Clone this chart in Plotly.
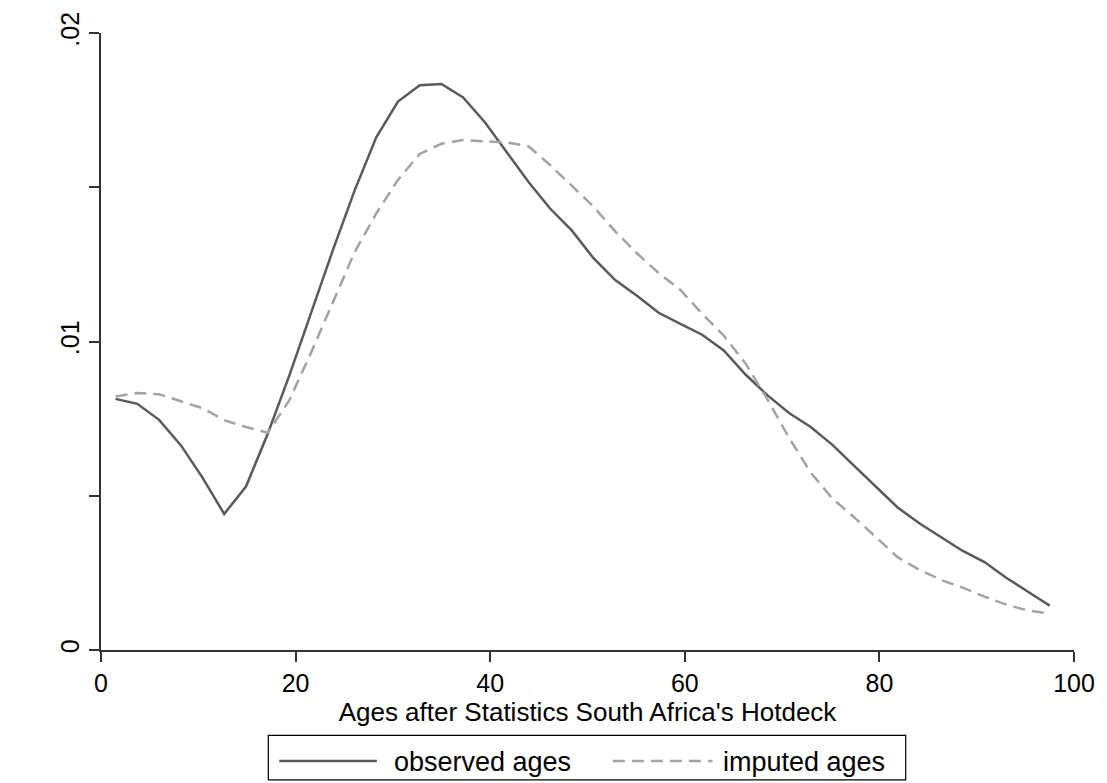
import plotly.graph_objects as go

# Kernel density estimates of age, evaluated on a common grid
age_grid = [1.50, 3.73, 5.97, 8.20, 10.43, 12.66, 14.90, 17.13, 19.36, 21.59,
            23.83, 26.06, 28.29, 30.52, 32.76, 34.99, 37.22, 39.45, 41.69, 43.92,
            46.15, 48.38, 50.62, 52.85, 55.08, 57.31, 59.55, 61.78, 64.01, 66.24,
            68.48, 70.71, 72.94, 75.17, 77.41, 79.64, 81.87, 84.10, 86.34, 88.57,
            90.80, 93.03, 95.27, 97.50]

observed_density = [0.00814, 0.00798, 0.00746, 0.00664, 0.00559, 0.00441, 0.00530, 0.00700,
                    0.00890, 0.01093, 0.01296, 0.01489, 0.01662, 0.01778, 0.01831, 0.01835,
                    0.01791, 0.01711, 0.01614, 0.01518, 0.01431, 0.01360, 0.01270, 0.01199,
                    0.01148, 0.01093, 0.01057, 0.01022, 0.00971, 0.00893, 0.00826, 0.00768,
                    0.00723, 0.00665, 0.00597, 0.00530, 0.00462, 0.00411, 0.00366, 0.00321,
                    0.00285, 0.00234, 0.00189, 0.00144]

imputed_density = [0.00822, 0.00833, 0.00829, 0.00807, 0.00784, 0.00745, 0.00723, 0.00704,
                   0.00810, 0.00964, 0.01128, 0.01289, 0.01415, 0.01524, 0.01608, 0.01641,
                   0.01653, 0.01649, 0.01645, 0.01633, 0.01572, 0.01505, 0.01437, 0.01357,
                   0.01286, 0.01222, 0.01167, 0.01090, 0.01019, 0.00929, 0.00813, 0.00688,
                   0.00575, 0.00491, 0.00430, 0.00366, 0.00301, 0.00260, 0.00227, 0.00202,
                   0.00173, 0.00147, 0.00128, 0.00118]

x_ticks = [0, 20, 40, 60, 80, 100]
y_ticks = [0, 0.005, 0.01, 0.015, 0.02]
y_tick_labels = ["0", "", ".01", "", ".02"]

series_names = ["observed ages", "imputed ages"]
solid_color = "#5a5a5a"
dash_color = "#a3a3a3"
dash_pattern = "12px,7px"
font_family = "Liberation Sans, Arial, sans-serif"

W, H = 1107, 783
ML, MR, MT, MB = 101, 29, 28, 133
PW, PH = W - ML - MR, H - MT - MB


def px_x(x):
    return (x - ML) / PW


def px_y(y):
    return (H - MB - y) / PH


fig = go.Figure()
fig.add_trace(go.Scatter(x=age_grid, y=observed_density, mode="lines",
                         name=series_names[0],
                         line=dict(color=solid_color, width=2.5)))
fig.add_trace(go.Scatter(x=age_grid, y=imputed_density, mode="lines",
                         name=series_names[1],
                         line=dict(color=dash_color, width=2.5, dash=dash_pattern)))

axis_color = "#333333"
fig.update_xaxes(range=[0, 100], tickvals=x_ticks, ticks="outside", ticklen=10,
                 tickwidth=1.5, tickcolor=axis_color, showline=True, linewidth=1.5,
                 linecolor=axis_color, showgrid=False, zeroline=False,
                 tickfont=dict(size=25, color="black", family=font_family),
                 title=dict(text="Ages after Statistics South Africa's Hotdeck",
                            font=dict(size=26, color="black", family=font_family),
                            standoff=1))
fig.update_yaxes(range=[0, 0.02], tickvals=y_ticks, ticktext=y_tick_labels,
                 ticks="outside", ticklen=10, tickwidth=1.5, tickcolor=axis_color,
                 showline=True, linewidth=1.5, linecolor=axis_color, showgrid=False,
                 zeroline=False, tickangle=-90,
                 tickfont=dict(size=25, color="black", family=font_family))

# Legend box below the x-axis title
box_l, box_r, box_t, box_b = 269, 909, 736, 781
shapes = [dict(type="rect", xref="paper", yref="paper",
               x0=px_x(box_l), x1=px_x(box_r), y0=px_y(box_b), y1=px_y(box_t),
               line=dict(color="black", width=1.2), fillcolor="white", layer="above")]
sample_y = 762
shapes.append(dict(type="line", xref="paper", yref="paper",
                   x0=px_x(280), x1=px_x(378), y0=px_y(sample_y), y1=px_y(sample_y),
                   line=dict(color=solid_color, width=2.5)))
shapes.append(dict(type="line", xref="paper", yref="paper",
                   x0=px_x(615), x1=px_x(715), y0=px_y(sample_y), y1=px_y(sample_y),
                   line=dict(color=dash_color, width=2.5, dash=dash_pattern)))
annotations = [
    dict(text=series_names[0], xref="paper", yref="paper", x=px_x(393), y=px_y(763),
         xanchor="left", yanchor="middle", showarrow=False,
         font=dict(size=27, color="black", family=font_family)),
    dict(text=series_names[1], xref="paper", yref="paper", x=px_x(724), y=px_y(763),
         xanchor="left", yanchor="middle", showarrow=False,
         font=dict(size=27, color="black", family=font_family)),
]

fig.update_layout(width=W, height=H, margin=dict(l=ML, r=MR, t=MT, b=MB),
                  paper_bgcolor="white", plot_bgcolor="white", showlegend=False,
                  shapes=shapes, annotations=annotations,
                  font=dict(family=font_family, color="black"))

fig.write_html("out.html")
